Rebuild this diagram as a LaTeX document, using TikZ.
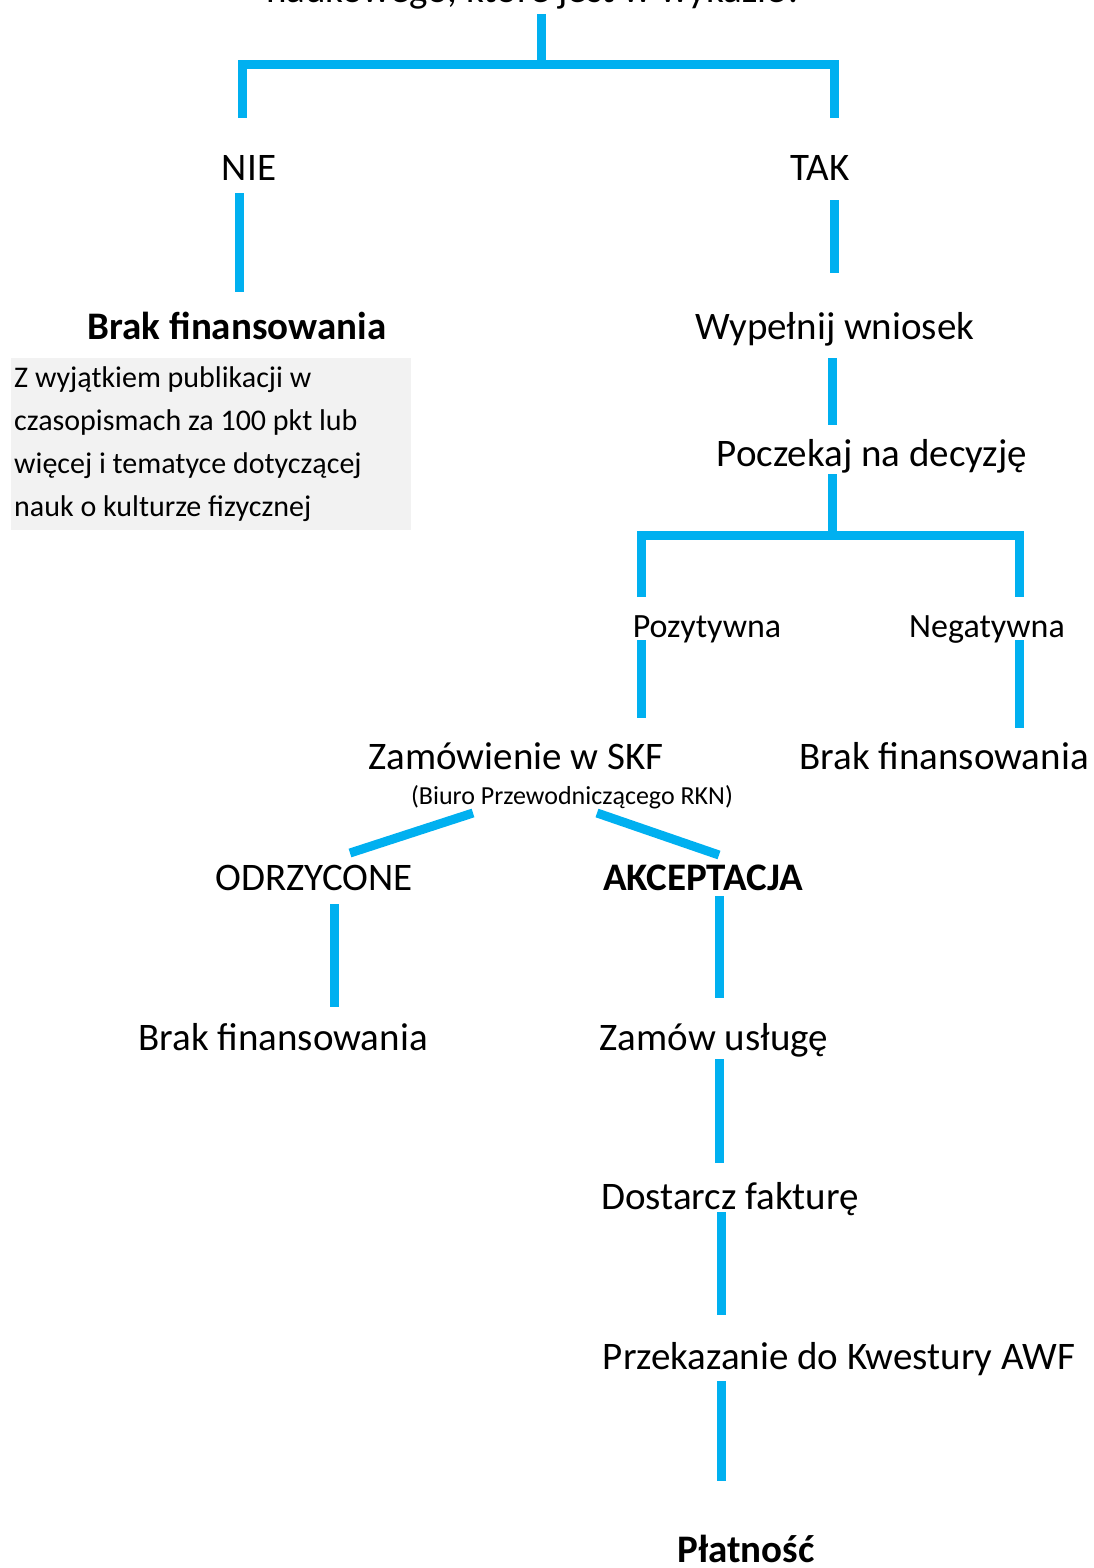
\documentclass[tikz,border=0pt]{standalone}
\usepackage{fontspec}
\setmainfont{Carlito}
\usepackage{tikz}
\definecolor{linia}{HTML}{00B0F0}
\definecolor{szary}{HTML}{F2F2F2}
\tikzset{
  conn/.style={line width=9pt, linia},
  lbl/.style={inner sep=0pt, anchor=base, font=\fontsize{39}{47}\selectfont},
  lblmid/.style={inner sep=0pt, anchor=base, font=\fontsize{34}{41}\selectfont},
  lblsmall/.style={inner sep=0pt, anchor=base, font=\fontsize{26}{31}\selectfont},
}

\begin{document}
\begin{tikzpicture}[x=1pt, y=-1pt]
\useasboundingbox (0,0) rectangle (1094,1568);
\clip (0,0) rectangle (1094,1568);

% Question (cut at the top)
\node[lbl] (q) at (535,3) {naukowego, które jest w wykazie?};

% First answer: NIE / TAK
\node[lbl] (nie) at (249,180) {NIE};
\node[lbl] (tak) at (820,180) {TAK};
\node[lbl, font=\fontsize{39}{47}\selectfont\bfseries] (brak) at (237,339) {Brak finansowania};
\node[anchor=north west, fill=szary, inner xsep=3pt, inner ysep=8pt,
      text width=394pt, minimum height=172pt, align=flush left,
      font=\fontsize{30}{43}\selectfont] (uwaga) at (11,358)
  {Z wyjątkiem publikacji w\\ czasopismach za 100 pkt lub\\ więcej i tematyce dotyczącej\\ nauk o kulturze fizycznej};
\node[lbl] (wyp) at (835,339) {Wypełnij wniosek};
\node[lbl] (pocz) at (872,466) {Poczekaj na decyzję};

% Decision
\node[lblmid] (poz) at (707,637) {Pozytywna};
\node[lblmid] (neg) at (987,637) {Negatywna};
\node[lbl] (zam) at (516,769) {Zamówienie w SKF};
\node[lblsmall] (biuro) at (572,804) {(Biuro Przewodniczącego RKN)};
\node[lbl] (brak3) at (944,769) {Brak finansowania};

% Order
\node[lbl] (odrz) at (314,890) {ODRZYCONE};
\node[lbl, font=\fontsize{39}{47}\selectfont\bfseries] (akc) at (703,890) {AKCEPTACJA};
\node[lbl] (brak2) at (283,1050) {Brak finansowania};
\node[lbl] (usl) at (714,1050) {Zamów usługę};
\node[lbl] (dost) at (730,1209) {Dostarcz fakturę};
\node[lbl] (przek) at (839,1369) {Przekazanie do Kwestury AWF};
\node[lbl, font=\fontsize{39}{47}\selectfont\bfseries] (plat) at (746,1562) {Płatność};

% Connectors
\draw[conn] ([shift={(6,11)}]q.base) -- ++(0,51);
\draw[conn] ([shift={(-7,-62)}]nie.base) -- ++(0,-53) -| ([shift={(14,-62)}]tak.base);
\draw[conn] ([shift={(-10,13)}]nie.base) -- ([shift={(2,-47)}]brak.base);
\draw[conn] ([shift={(14,20)}]tak.base) -- ([shift={(-1,-66)}]wyp.base);
\draw[conn] ([shift={(-3,19)}]wyp.base) -- ([shift={(-40,-41)}]pocz.base);
\draw[conn] ([shift={(-40,8)}]pocz.base) -- ++(0,61);
\draw[conn] ([shift={(-66,-40)}]poz.base) -- ++(0,-62) -| ([shift={(32,-40)}]neg.base);
\draw[conn] ([shift={(-66,3)}]poz.base) -- ([shift={(125,-51)}]zam.base);
\draw[conn] ([shift={(32,3)}]neg.base) -- ([shift={(75,-41)}]brak3.base);
\draw[conn] ([shift={(-99,9)}]biuro.base) -- ([shift={(36,-37)}]odrz.base);
\draw[conn] ([shift={(25,9)}]biuro.base) -- ([shift={(16,-35)}]akc.base);
\draw[conn] ([shift={(20,14)}]odrz.base) -- ([shift={(51,-43)}]brak2.base);
\draw[conn] ([shift={(16,6)}]akc.base) -- ([shift={(5,-52)}]usl.base);
\draw[conn] ([shift={(5,9)}]usl.base) -- ([shift={(-11,-46)}]dost.base);
\draw[conn] ([shift={(-9,3)}]dost.base) -- ([shift={(-118,-54)}]przek.base);
\draw[conn] ([shift={(-118,12)}]przek.base) -- ([shift={(-25,-81)}]plat.base);

\end{tikzpicture}
\end{document}
